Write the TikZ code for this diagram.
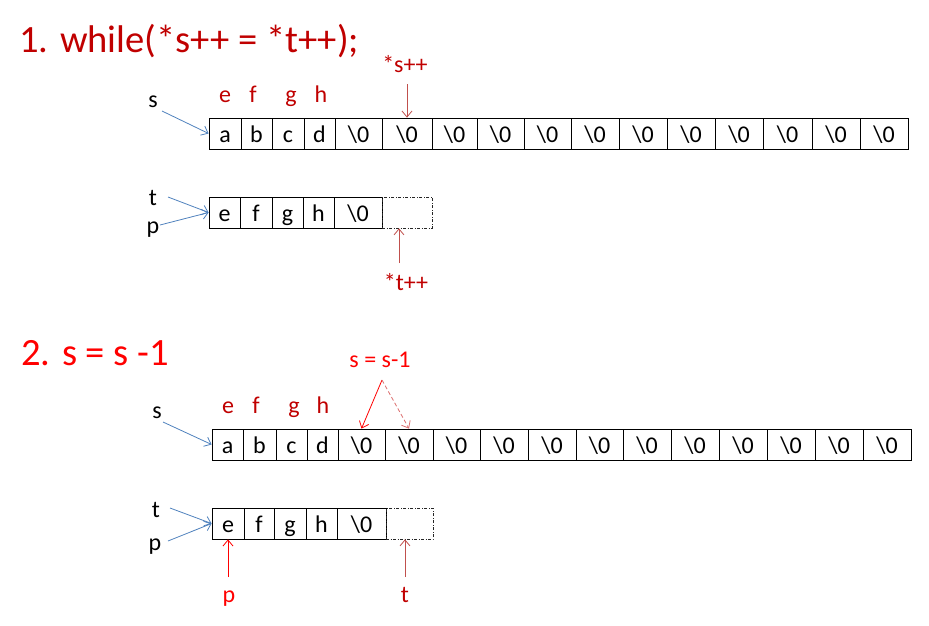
\documentclass[tikz,border=0pt]{standalone}
\usepackage{fontspec}
\setmainfont{Carlito}
\usetikzlibrary{arrows.meta}
\definecolor{dred}{RGB}{192,0,0}
\definecolor{ared}{RGB}{192,80,77}
\definecolor{lred}{RGB}{220,110,110}
\definecolor{ablue}{RGB}{79,129,189}
\newcommand\bszero{\textbackslash0}
\begin{document}
\begin{tikzpicture}[x=1pt,y=-1pt,
  cell/.style={draw, line width=0.8pt, inner sep=0pt, minimum height=31pt,
    text height=19pt, text depth=1pt, font=\fontsize{24}{27}\selectfont},
  dcell/.style={cell, draw=black!85, dash pattern=on 3pt off 1.5pt on 1pt off 1.5pt, line width=0.6pt},
  lbl/.style={inner sep=0pt, anchor=base, font=\fontsize{24}{27}\selectfont},
  title/.style={inner sep=0pt, anchor=base west, font=\fontsize{38.6}{44}\selectfont},
  tip/.style={-{Straight Barb[length=6pt,width=10pt]}},
  barrow/.style={tip, draw=ablue, line width=0.8pt},
  rarrow/.style={tip, draw=ared, line width=0.8pt},
  redarrow/.style={tip, draw=red, line width=0.8pt}]
\useasboundingbox (0,0) rectangle (929,625);

% ---------- titles
\node[title, text=dred] (t1) at (19,52) {1. while(*s++ = *t++);};
\node[title, text=red] (t2) at (21,365) {2. s = s -1};

% ---------- row 1 (s)
\foreach \l/\r/\t [count=\i] in {209/241/a,241/272/b,272/304/c,304/335/d,
  335/382/\bszero,382/432/\bszero,432/477/\bszero,477/524/\bszero,524/571/\bszero,
  571/619/\bszero,619/667/\bszero,667/715/\bszero,715/763/\bszero,763/812/\bszero,
  812/860/\bszero,860/908/\bszero}
  \node[cell, minimum width={\r-\l}] (A\i) at ({(\l+\r)/2},133.5) {\t};

\foreach \x/\t [count=\i] in {225/e,253/f,291/g,321/h}
  \node[lbl, text=dred] (E\i) at (\x,102) {\t};
\node[lbl] (s1) at (153,107) {s};
\coordinate (s1tail) at (162,111);
\draw[barrow] (s1tail) -- (A1.west);
\node[lbl, text=dred] (spp) at (405,72) {*s++};
\coordinate (spptail) at (407,84);
\draw[rarrow] (spptail) -- (spptail |- A6.north);

% ---------- row 2 (t)
\foreach \l/\r/\t [count=\i] in {209/240/e,240/272/f,272/303/g,303/334/h,334/382/\bszero}
  \node[cell, minimum width={\r-\l}] (B\i) at ({(\l+\r)/2},212.5) {\t};
\node[dcell, minimum width=50pt] (B6) at (407,212.5) {};
\node[lbl] (t2l) at (153,205) {t};
\node[lbl] (p2l) at (153,233) {p};
\coordinate (t2tail) at (168,197);
\coordinate (p2tail) at (160,225);
\draw[barrow] (t2tail) -- (B1.west);
\draw[barrow] (p2tail) -- (B1.west);
\node[lbl, text=dred] (tpp) at (406,290) {*t++};
\coordinate (tpptail) at (399,263);
\draw[rarrow] (tpptail) -- (tpptail |- B6.south);

% ---------- row 3 (s after s-1)
\foreach \l/\r/\t [count=\i] in {212/243/a,243/276/b,276/307/c,307/338/d,
  338/385/\bszero,385/433/\bszero,433/480/\bszero,480/528/\bszero,528/576/\bszero,
  576/623/\bszero,623/671/\bszero,671/719/\bszero,719/767/\bszero,767/815/\bszero,
  815/863/\bszero,863/911/\bszero}
  \node[cell, minimum width={\r-\l}] (C\i) at ({(\l+\r)/2},444.5) {\t};

\foreach \x/\t [count=\i] in {228/e,256/f,294/g,323/h}
  \node[lbl, text=dred] (F\i) at (\x,413) {\t};
\node[lbl] (s3) at (157,418) {s};
\coordinate (s3tail) at (163,422);
\draw[barrow] (s3tail) -- (C1.west);
\node[lbl, text=red] (ssm) at (380,367) {s = s-1};
\coordinate (apex) at (382,380);
\draw[redarrow] (apex) -- (C5.north);
\draw[tip, draw=lred, line width=0.8pt, dash pattern=on 4pt off 2.5pt] (apex) -- (C6.north);

% ---------- row 4 (t, p)
\foreach \l/\r/\t [count=\i] in {212/244/e,244/274/f,274/306/g,306/337/h,337/386/\bszero}
  \node[cell, minimum width={\r-\l}] (D\i) at ({(\l+\r)/2},523.5) {\t};
\node[dcell, minimum width=47pt] (D6) at (409.5,523.5) {};
\node[lbl] (t4l) at (156,517) {t};
\node[lbl] (p4l) at (155,550) {p};
\coordinate (t4tail) at (170,508);
\coordinate (p4tail) at (168,541);
\draw[barrow] (t4tail) -- (D1.west);
\draw[barrow] (p4tail) -- (D1.west);
\node[lbl, text=red] (p4b) at (229,602) {p};
\coordinate (p4btail) at (228,577);
\draw[redarrow] (p4btail) -- (p4btail |- D1.south);
\node[lbl, text=dred] (t4b) at (405,602) {t};
\coordinate (t4btail) at (405,577);
\draw[rarrow] (t4btail) -- (t4btail |- D6.south);
\end{tikzpicture}
\end{document}
